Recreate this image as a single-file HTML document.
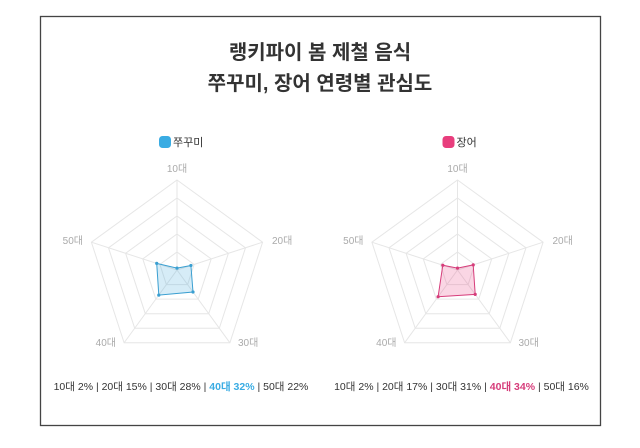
<!DOCTYPE html>
<html><head><meta charset="utf-8"><style>
body{margin:0;background:#fff;width:640px;height:443px;overflow:hidden}
svg text{font-family:"Liberation Sans","Noto Sans CJK KR",sans-serif}
</style></head><body>
<svg width="640" height="443" xmlns="http://www.w3.org/2000/svg">
<rect x="40.5" y="16.5" width="560" height="409" fill="#fff" stroke="#444" stroke-width="1.3"/>
<text x="320" y="59" text-anchor="middle" font-size="20" font-weight="bold" fill="#333">랭키파이 봄 제철 음식</text>
<text x="320" y="90" text-anchor="middle" font-size="20" font-weight="bold" fill="#333">쭈꾸미, 장어 연령별 관심도</text>
<g id="L">
<g fill="none" stroke="#e6e6e6" stroke-width="1">
<polygon points="177,180 262.6,242.2 229.9,342.8 124.1,342.8 91.4,242.2"/>
<polygon points="177,198 245.5,247.8 219.3,328.3 134.7,328.3 108.5,247.8"/>
<polygon points="177,216 228.4,253.3 208.7,313.7 145.3,313.7 125.6,253.3"/>
<polygon points="177,234 211.2,258.9 198.2,299.1 155.8,299.1 142.8,258.9"/>
<polygon points="177,252 194.1,264.4 187.6,284.6 166.4,284.6 159.9,264.4"/>
<path d="M177 270L177 180M177 270L262.6 242.2M177 270L229.9 342.8M177 270L124.1 342.8M177 270L91.4 242.2"/>
</g>
<polygon points="177,268.1 190.9,265.5 193,292 158.8,295.1 156.7,263.4" fill="rgba(70,170,220,0.22)" stroke="#3a9fd1" stroke-width="1"/>
<g fill="#3a9fd1"><circle cx="177" cy="268.1" r="1.6"/><circle cx="190.9" cy="265.5" r="1.6"/><circle cx="193" cy="292" r="1.6"/><circle cx="158.8" cy="295.1" r="1.6"/><circle cx="156.7" cy="263.4" r="1.6"/></g>
<g font-size="10" fill="#aaa"><text x="177" y="172" text-anchor="middle">10대</text><text x="272" y="244">20대</text><text x="238" y="346">30대</text><text x="116" y="346" text-anchor="end">40대</text><text x="83" y="244" text-anchor="end">50대</text></g>
<rect x="159" y="136" width="12" height="12" rx="3.5" fill="#3aace3"/>
<text x="173" y="146" font-size="11" fill="#333">쭈꾸미</text>
<text x="181" y="390" text-anchor="middle" font-size="10.5" fill="#333">10대 2% | 20대 15% | 30대 28% | <tspan fill="#3aace3" font-weight="bold">40대 32%</tspan> | 50대 22%</text>
</g>
<g transform="translate(280.5,0)">
<g fill="none" stroke="#e6e6e6" stroke-width="1">
<polygon points="177,180 262.6,242.2 229.9,342.8 124.1,342.8 91.4,242.2"/>
<polygon points="177,198 245.5,247.8 219.3,328.3 134.7,328.3 108.5,247.8"/>
<polygon points="177,216 228.4,253.3 208.7,313.7 145.3,313.7 125.6,253.3"/>
<polygon points="177,234 211.2,258.9 198.2,299.1 155.8,299.1 142.8,258.9"/>
<polygon points="177,252 194.1,264.4 187.6,284.6 166.4,284.6 159.9,264.4"/>
<path d="M177 270L177 180M177 270L262.6 242.2M177 270L229.9 342.8M177 270L124.1 342.8M177 270L91.4 242.2"/>
</g>
<polygon points="177,268.1 192.7,264.9 194.7,294.4 157.6,296.7 162.3,265.2" fill="rgba(230,70,130,0.22)" stroke="#d63c7a" stroke-width="1"/>
<g fill="#d63c7a"><circle cx="177" cy="268.1" r="1.6"/><circle cx="192.7" cy="264.9" r="1.6"/><circle cx="194.7" cy="294.4" r="1.6"/><circle cx="157.6" cy="296.7" r="1.6"/><circle cx="162.3" cy="265.2" r="1.6"/></g>
<g font-size="10" fill="#aaa"><text x="177" y="172" text-anchor="middle">10대</text><text x="272" y="244">20대</text><text x="238" y="346">30대</text><text x="116" y="346" text-anchor="end">40대</text><text x="83" y="244" text-anchor="end">50대</text></g>
<rect x="162" y="136" width="12" height="12" rx="3.5" fill="#e83e7d"/>
<text x="176" y="146" font-size="11" fill="#333">장어</text>
<text x="181" y="390" text-anchor="middle" font-size="10.5" fill="#333">10대 2% | 20대 17% | 30대 31% | <tspan fill="#d63c7a" font-weight="bold">40대 34%</tspan> | 50대 16%</text>
</g>
</svg>
</body></html>
